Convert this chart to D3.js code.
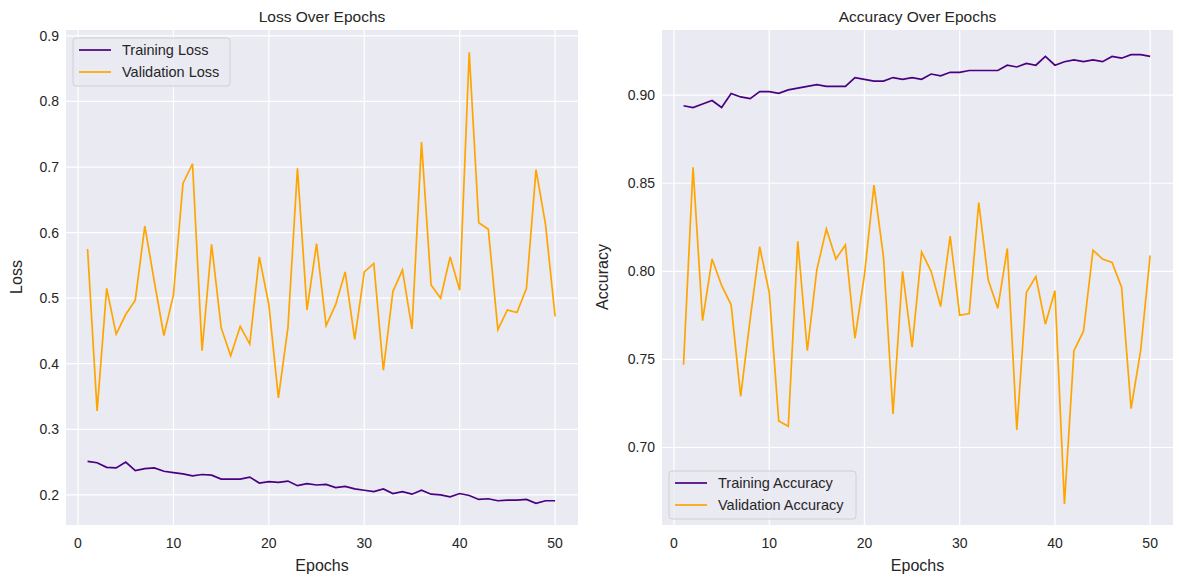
<!DOCTYPE html>
<html><head><meta charset="utf-8">
<script src="https://cdn.jsdelivr.net/npm/d3@7"></script>
<style>body{margin:0;background:#fff;font-family:Arial,"Liberation Sans",sans-serif}</style>
</head><body><svg id="chart" width="1183" height="584"></svg>
<script>
let epochs = d3.range(1, 51)
let trainLoss = [0.251,0.249,0.242,0.241,0.250,0.237,0.240,0.241,0.236,0.234,0.232,0.229,0.231,0.230,0.224,0.224,0.224,0.227,0.218,0.220,0.219,0.221,0.214,0.217,0.215,0.216,0.211,0.213,0.209,0.207,0.205,0.209,0.202,0.205,0.201,0.207,0.201,0.200,0.197,0.202,0.199,0.193,0.194,0.191,0.192,0.192,0.193,0.187,0.191,0.191]
let valLoss = [0.575,0.328,0.515,0.445,0.475,0.497,0.610,0.525,0.443,0.505,0.675,0.705,0.420,0.582,0.455,0.412,0.457,0.430,0.563,0.490,0.348,0.455,0.698,0.482,0.583,0.458,0.490,0.540,0.437,0.540,0.553,0.390,0.510,0.543,0.453,0.738,0.520,0.500,0.563,0.512,0.875,0.615,0.605,0.452,0.482,0.478,0.515,0.696,0.612,0.472]
let trainAcc = [0.894,0.893,0.895,0.897,0.893,0.901,0.899,0.898,0.902,0.902,0.901,0.903,0.904,0.905,0.906,0.905,0.905,0.905,0.910,0.909,0.908,0.908,0.910,0.909,0.910,0.909,0.912,0.911,0.913,0.913,0.914,0.914,0.914,0.914,0.917,0.916,0.918,0.917,0.922,0.917,0.919,0.920,0.919,0.920,0.919,0.922,0.921,0.923,0.923,0.922]
let valAcc = [0.747,0.859,0.772,0.807,0.792,0.781,0.729,0.773,0.814,0.788,0.715,0.712,0.817,0.755,0.801,0.824,0.807,0.815,0.762,0.798,0.849,0.808,0.719,0.800,0.757,0.811,0.800,0.780,0.820,0.775,0.776,0.839,0.795,0.779,0.813,0.710,0.788,0.797,0.770,0.789,0.668,0.755,0.766,0.812,0.807,0.805,0.791,0.722,0.755,0.809]
let xTicks = [0,10,20,30,40,50]
let lossTicks = [0.2,0.3,0.4,0.5,0.6,0.7,0.8,0.9]
let accTicks = [0.70,0.75,0.80,0.85,0.90]

let svg = d3.select('#chart')

let drawPanel = (opt) => {
  let x = d3.scaleLinear().domain([-1.26, 52.4]).range([opt.left, opt.right])
  let y = d3.scaleLinear().domain(opt.yDomain).range([525, 30])
  let g = svg.append('g')
  g.append('rect').attr('x', opt.left).attr('y', 30).attr('width', opt.right - opt.left).attr('height', 495).attr('fill', '#eaeaf2')
  g.selectAll('.vg').data(xTicks).enter().append('line')
    .attr('x1', d => x(d)).attr('x2', d => x(d)).attr('y1', 30).attr('y2', 525)
    .attr('stroke', '#fff').attr('stroke-width', 1.2)
  g.selectAll('.hg').data(opt.ticks).enter().append('line')
    .attr('x1', opt.left).attr('x2', opt.right).attr('y1', d => y(d)).attr('y2', d => y(d))
    .attr('stroke', '#fff').attr('stroke-width', 1.2)
  g.selectAll('.xt').data(xTicks).enter().append('text')
    .attr('x', d => x(d)).attr('y', 548).attr('text-anchor', 'middle')
    .attr('font-size', 14).attr('fill', '#262626').text(d => d)
  g.selectAll('.yt').data(opt.ticks).enter().append('text')
    .attr('x', opt.left - 7).attr('y', d => y(d) + 5).attr('text-anchor', 'end')
    .attr('font-size', 14).attr('fill', '#262626').text(opt.fmt)
  g.append('text').attr('x', (opt.left + opt.right) / 2).attr('y', 571).attr('text-anchor', 'middle')
    .attr('font-size', 16).attr('fill', '#262626').text('Epochs')
  g.append('text').attr('transform', `translate(${opt.ylabX},277) rotate(-90)`).attr('text-anchor', 'middle')
    .attr('font-size', 16).attr('fill', '#262626').text(opt.ylabel)
  g.append('text').attr('x', (opt.left + opt.right) / 2).attr('y', 22).attr('text-anchor', 'middle')
    .attr('font-size', 15.5).attr('fill', '#262626').text(opt.title)
  let line = d3.line().x((d, i) => x(epochs[i])).y(d => y(d))
  opt.series.forEach(s => {
    g.append('path').attr('d', line(s.values)).attr('fill', 'none')
      .attr('stroke', s.color).attr('stroke-width', 1.7)
  })
  let lg = g.append('g').attr('transform', `translate(${opt.left + 7},${opt.legendY})`)
  lg.append('rect').attr('width', opt.legendW).attr('height', 48).attr('rx', 3)
    .attr('fill', '#eaeaf2').attr('fill-opacity', 0.8).attr('stroke', '#d0d0d0')
  opt.series.forEach((s, i) => {
    lg.append('line').attr('x1', 6).attr('x2', 38).attr('y1', 12 + i * 22).attr('y2', 12 + i * 22)
      .attr('stroke', s.color).attr('stroke-width', 1.7)
    lg.append('text').attr('x', 49).attr('y', 17 + i * 22).attr('font-size', 14.5).attr('fill', '#262626').text(s.name)
  })
}

drawPanel({left: 66, right: 578, yDomain: [0.154, 0.909], ticks: lossTicks, fmt: d => d.toFixed(1),
  ylabel: 'Loss', ylabX: 22, title: 'Loss Over Epochs', legendY: 38, legendW: 157,
  series: [{name: 'Training Loss', values: trainLoss, color: '#4b0082'},
           {name: 'Validation Loss', values: valLoss, color: 'orange'}]})
drawPanel({left: 662, right: 1173, yDomain: [0.656, 0.937], ticks: accTicks, fmt: d => d.toFixed(2),
  ylabel: 'Accuracy', ylabX: 608, title: 'Accuracy Over Epochs', legendY: 471, legendW: 187,
  series: [{name: 'Training Accuracy', values: trainAcc, color: '#4b0082'},
           {name: 'Validation Accuracy', values: valAcc, color: 'orange'}]})
</script></body></html>
